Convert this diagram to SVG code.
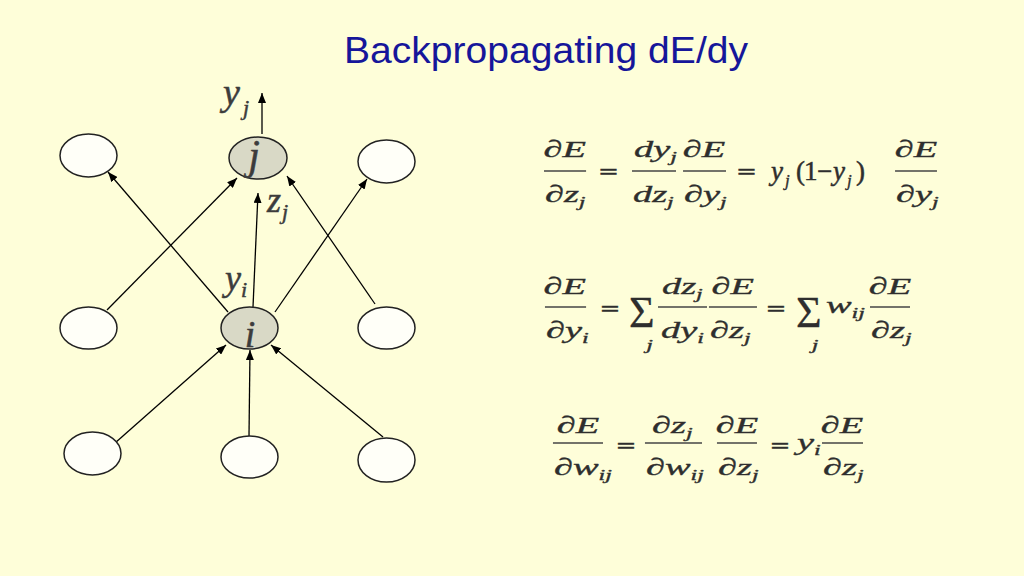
<svg xmlns="http://www.w3.org/2000/svg" width="1024" height="576" viewBox="0 0 1024 576">
<defs>
<marker id="ah" markerUnits="userSpaceOnUse" markerWidth="10" markerHeight="8" refX="10" refY="4" orient="auto">
<path d="M0,0 L10,4 L0,8 z" fill="#000"/>
</marker>
<style>
.node{stroke:#222;stroke-width:1.5;fill:#fffff8}
.act{fill:#d9d9c6}
.lbl{font-family:"Liberation Serif","DejaVu Serif",serif;font-style:italic;fill:#3c3c3c;stroke:#3c3c3c;stroke-width:0.5}
.con line{stroke:#000;stroke-width:1.3;marker-end:url(#ah)}
.eq text{font-family:"Liberation Serif","DejaVu Serif",serif;font-style:italic;font-size:24px;fill:#2e2e2e;stroke:#2e2e2e;stroke-width:0.35}
.eq .r{font-style:normal}
.eq .s{font-size:15px}
.eq .eqs{font-style:normal;font-weight:bold;font-size:21px}
.eq line{stroke:#444;stroke-width:1.6}
.eq .sig{font-style:normal;font-size:44px;stroke-width:0.3}
.eq .b{font-size:27px;stroke-width:0.5}
.eq .bs{font-size:17px}
</style>
</defs>
<rect width="1024" height="576" fill="#fefed9"/>
<text x="546" y="63" text-anchor="middle" font-family="Liberation Sans, Arial, sans-serif" font-size="37" fill="#16169a" textLength="404" lengthAdjust="spacingAndGlyphs">Backpropagating dE/dy</text>

<g id="connectors" class="con">
<line x1="262" y1="134" x2="262" y2="93"/>
<line x1="107" y1="310" x2="237" y2="178"/>
<line x1="228" y1="312" x2="108" y2="172"/>
<line x1="253" y1="307" x2="258" y2="193"/>
<line x1="275" y1="312" x2="367" y2="179"/>
<line x1="375" y1="304" x2="287" y2="176"/>
<line x1="115" y1="443" x2="226" y2="345"/>
<line x1="249" y1="436" x2="250" y2="350"/>
<line x1="383" y1="437" x2="271" y2="345"/>
</g>

<g id="n-top-left"><ellipse class="node" cx="88.5" cy="155.5" rx="28.5" ry="21.5"/></g>
<g id="n-j"><ellipse class="node act" cx="258" cy="158" rx="29" ry="21"/><text class="lbl" x="254" y="169" font-size="42" text-anchor="middle">j</text></g>
<g id="n-top-right"><ellipse class="node" cx="386.5" cy="161.5" rx="28.5" ry="21.5"/></g>
<g id="n-mid-left"><ellipse class="node" cx="88.5" cy="328" rx="28.5" ry="21"/></g>
<g id="n-i"><ellipse class="node act" cx="249.5" cy="328" rx="28.5" ry="21"/><text class="lbl" x="250" y="347" font-size="38" text-anchor="middle">i</text></g>
<g id="n-mid-right"><ellipse class="node" cx="386.5" cy="328" rx="28.5" ry="21"/></g>
<g id="n-bot-left"><ellipse class="node" cx="92.5" cy="453.5" rx="28.5" ry="21.5"/></g>
<g id="n-bot-mid"><ellipse class="node" cx="249.5" cy="457" rx="28.5" ry="21"/></g>
<g id="n-bot-right"><ellipse class="node" cx="386.5" cy="460" rx="28.5" ry="22"/></g>

<g id="labels">
<text class="lbl" x="223" y="105" font-size="38">y<tspan font-size="22" dx="3" dy="10">j</tspan></text>
<text class="lbl" x="267" y="212" font-size="36">z<tspan font-size="22" dx="1" dy="7">j</tspan></text>
<text class="lbl" x="225" y="290" font-size="36">y<tspan font-size="22" dy="7">i</tspan></text>
</g>

<g id="equations" class="eq">
<g transform="scale(1.6,1)">
<!-- eq1 -->
<text x="353" y="157" text-anchor="middle"><tspan class="r">∂</tspan>E</text>
<line x1="340" y1="171" x2="366.3" y2="171"/>
<text x="340.6" y="202"><tspan class="r">∂</tspan>z<tspan class="s" dy="5">j</tspan></text>
<text class="eqs" x="380.3" y="179" text-anchor="middle">=</text>
<text x="396.3" y="157">dy<tspan class="s" dy="5">j</tspan></text>
<line x1="395" y1="171" x2="422.5" y2="171"/>
<text x="395.6" y="202">dz<tspan class="s" dy="5">j</tspan></text>
<text x="440" y="157" text-anchor="middle"><tspan class="r">∂</tspan>E</text>
<line x1="426.9" y1="171" x2="453.75" y2="171"/>
<text x="427.5" y="202"><tspan class="r">∂</tspan>y<tspan class="s" dy="5">j</tspan></text>
<text class="eqs" x="466.6" y="179" text-anchor="middle">=</text>
<text x="572.5" y="157" text-anchor="middle"><tspan class="r">∂</tspan>E</text>
<line x1="559.4" y1="171" x2="585.6" y2="171"/>
<text x="560" y="202"><tspan class="r">∂</tspan>y<tspan class="s" dy="5">j</tspan></text>

<!-- eq2 -->
<text x="353" y="294" text-anchor="middle"><tspan class="r">∂</tspan>E</text>
<line x1="340.6" y1="307" x2="366.3" y2="307"/>
<text x="341.25" y="338"><tspan class="r">∂</tspan>y<tspan class="s" dy="5">i</tspan></text>
<text class="eqs" x="381.25" y="316" text-anchor="middle">=</text>
<text class="s" x="406" y="350" text-anchor="middle">j</text>
<text x="413.75" y="294">dz<tspan class="s" dy="5">j</tspan></text>
<line x1="411.25" y1="307" x2="441.9" y2="307"/>
<text x="413.1" y="338">dy<tspan class="s" dy="5">i</tspan></text>
<text x="458" y="294" text-anchor="middle"><tspan class="r">∂</tspan>E</text>
<line x1="443.1" y1="307" x2="473.1" y2="307"/>
<text x="443.75" y="338"><tspan class="r">∂</tspan>z<tspan class="s" dy="5">j</tspan></text>
<text class="eqs" x="485" y="316" text-anchor="middle">=</text>
<text class="s" x="509.4" y="350" text-anchor="middle">j</text>
<text x="516.25" y="313">w<tspan class="s" dy="5">ij</tspan></text>
<text x="556.25" y="294" text-anchor="middle"><tspan class="r">∂</tspan>E</text>
<line x1="543.75" y1="307" x2="568.75" y2="307"/>
<text x="544.4" y="338"><tspan class="r">∂</tspan>z<tspan class="s" dy="5">j</tspan></text>

<!-- eq3 -->
<text x="361.25" y="433" text-anchor="middle"><tspan class="r">∂</tspan>E</text>
<line x1="345.6" y1="443" x2="376.9" y2="443"/>
<text x="346.25" y="475"><tspan class="r">∂</tspan>w<tspan class="s" dy="5">ij</tspan></text>
<text class="eqs" x="391.25" y="453" text-anchor="middle">=</text>
<text x="407.5" y="433"><tspan class="r">∂</tspan>z<tspan class="s" dy="5">j</tspan></text>
<line x1="403.1" y1="443" x2="438.75" y2="443"/>
<text x="403.75" y="475"><tspan class="r">∂</tspan>w<tspan class="s" dy="5">ij</tspan></text>
<text x="460.6" y="433" text-anchor="middle"><tspan class="r">∂</tspan>E</text>
<line x1="448.1" y1="443" x2="473.1" y2="443"/>
<text x="448.75" y="475"><tspan class="r">∂</tspan>z<tspan class="s" dy="5">j</tspan></text>
<text class="eqs" x="487.5" y="453" text-anchor="middle">=</text>
<text x="498.1" y="450">y<tspan class="s" dy="5">i</tspan></text>
<text x="526.25" y="433" text-anchor="middle"><tspan class="r">∂</tspan>E</text>
<line x1="513.75" y1="443" x2="539.4" y2="443"/>
<text x="514.4" y="475"><tspan class="r">∂</tspan>z<tspan class="s" dy="5">j</tspan></text>
</g>
<text class="b" x="771" y="180">y</text>
<text class="bs" x="785" y="186">j</text>
<text class="r b" x="796" y="180">(</text>
<text class="r b" x="804" y="180">1</text>
<text class="r b" x="817" y="180">−</text>
<text class="b" x="833" y="180">y</text>
<text class="bs" x="847" y="186">j</text>
<text class="r b" x="856" y="180">)</text>
<text class="sig" x="629" y="327">Σ</text>
<text class="sig" x="796" y="327">Σ</text>
</g>
</svg>
